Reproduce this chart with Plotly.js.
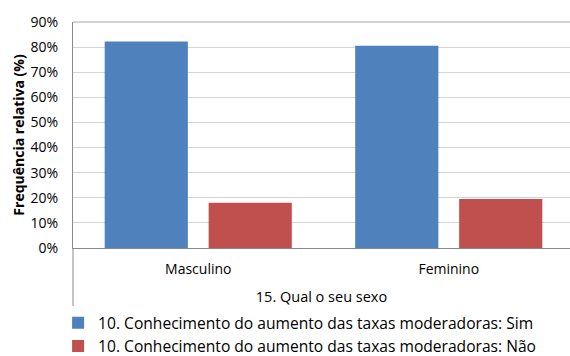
<!DOCTYPE html>
<html><head><meta charset="utf-8">
<script src="https://cdn.plot.ly/plotly-3.0.1.min.js"></script>
<style>html,body{margin:0;padding:0;overflow:hidden;background:#fff}</style>
</head><body><div id="chart" style="width:570px;height:356px"></div>
<script>
const categories = ["Masculino", "Feminino"];
const simValues = [82.2, 80.6];
const naoValues = [18.0, 19.5];
const seriesNames = ["10. Conhecimento do aumento das taxas moderadoras: Sim", "10. Conhecimento do aumento das taxas moderadoras: Não"];
const yTicks = [0,10,20,30,40,50,60,70,80,90];

const font = "'Open Sans', sans-serif";
const fs = 14;
const data = [
  {type:"bar", x:categories, y:simValues, name:seriesNames[0], marker:{color:"#4F81BD"}},
  {type:"bar", x:categories, y:naoValues, name:seriesNames[1], marker:{color:"#C0504D"}}
];
const layout = {
  width:570, height:356,
  margin:{l:73, r:0, t:22, b:108},
  paper_bgcolor:"#fff", plot_bgcolor:"#fff",
  font:{family:font, size:fs, color:"#000"},
  barmode:"group", bargap:0.17, bargroupgap:0.2,
  showlegend:true,
  legend:{orientation:"v", x:-0.03, xanchor:"left", yref:"container", y:0.14, yanchor:"top", font:{size:15.6, family:font}, tracegroupgap:0, itemwidth:30, traceorder:"normal"},
  xaxis:{type:"category", range:[-0.5, 1.484], showgrid:false, showline:true, linecolor:"#898989", linewidth:1, ticks:"", ticklabelstandoff:8,
    tickfont:{size:fs, family:font},
    title:{text:"15. Qual o seu sexo", font:{size:14.5, family:font}, standoff:17}},
  yaxis:{range:[0,90.01], tickvals:yTicks, ticktext:yTicks.map(v=>v+"%"), showgrid:true, gridcolor:"#d4d4d4", gridwidth:1,
    showline:true, linecolor:"#898989", zeroline:false, ticks:"outside", ticklen:11, tickcolor:"rgba(0,0,0,0)", tickfont:{size:fs, family:font},
    title:{text:"Frequência relativa (%)", font:{size:fs, family:font, weight:"bold"}, standoff:2}},
  shapes:[
    {type:"line", xref:"paper", yref:"paper", x0:0, x1:0, y0:0, y1:-0.265, line:{color:"#898989", width:1}},
    {type:"line", xref:"paper", yref:"paper", x0:0, x1:1, y0:1, y1:1, line:{color:"#a6a6a6", width:1}}
  ]
};
Plotly.newPlot("chart", data, layout, {displayModeBar:false, staticPlot:true});
</script></body></html>
